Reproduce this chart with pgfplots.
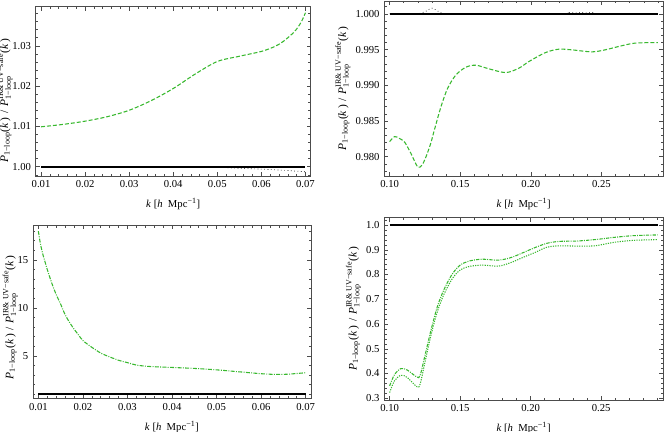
\documentclass[border=0pt]{standalone}
\usepackage{fontspec}
\setmainfont{Liberation Serif}
\usepackage{amsmath}
\usepackage{pgfplots}
\pgfplotsset{compat=1.18}
\definecolor{mgreen}{rgb}{0.22,0.72,0.18}
\definecolor{frame}{gray}{0.3}
\newcommand{\ylab}{\textit{P}$_{\text{1−loop}}$(\textit{k}\,)\,\,/\,\,\textit{P}$_{\text{1−loop}}^{\text{IR\& UV−safe}}$(\textit{k}\,)}
\pgfplotsset{
  mstyle/.style={
    scale only axis, anchor=south west,
    axis line style={frame, line width=0.5pt},
    every tick/.style={frame, line width=0.4pt},
    major tick length=3pt, minor tick length=1.7pt,
    tick align=inside,
    scaled ticks=false,
    tick label style={font=\fontsize{8}{9}\selectfont},
    xlabel style={font=\fontsize{8}{9}\selectfont, yshift=-1pt},
    ylabel style={font=\fontsize{8.6}{9}\selectfont, yshift=-3pt},
    /pgf/number format/assume math mode=true,
    xlabel={\textit{k} [\textit{h}\ \ Mpc\textsuperscript{−1}]},
    ylabel={\ylab},
  },
  greenline/.style={mgreen, line width=0.8pt, smooth},
  blackline/.style={black, line width=1.3pt},
}
\begin{document}
\begin{tikzpicture}
% Panel 1
\begin{axis}[mstyle, ylabel style={yshift=-4pt, xshift=-7pt}, at={(26.8pt,192pt)}, width=206.25pt, height=127pt,
  xmin=0.0088, xmax=0.0712, ymin=0.9977, ymax=1.0397,
  xtick={0.01,0.02,...,0.07},
  minor xtick={0.008,0.010,...,0.072},
  ytick={1.00,1.01,1.02,1.03},
  minor ytick={0.998,1.000,...,1.039},
  xticklabel style={/pgf/number format/.cd,fixed,fixed zerofill,precision=2},
  yticklabel style={/pgf/number format/.cd,fixed,fixed zerofill,precision=2}]
\addplot[black, line width=0.5pt, dotted, smooth] coordinates {
(0.010,1.0) (0.040,1.0) (0.046,1.0) (0.050,0.99985) (0.055,0.99962) (0.060,0.99940) (0.065,0.99912) (0.070,0.99875)};
\addplot[blackline] coordinates {(0.010,1.0) (0.070,1.0)};
\addplot[greenline, dash pattern=on 3pt off 1.5pt] coordinates {
(0.010,1.0099) (0.015,1.0105) (0.020,1.0113) (0.025,1.0124) (0.030,1.0140)
(0.035,1.0164) (0.040,1.0194) (0.045,1.0230) (0.050,1.0261) (0.055,1.0274)
(0.060,1.0286) (0.063,1.0298) (0.065,1.0311) (0.0675,1.0335) (0.069,1.0358) (0.070,1.0382)};
\end{axis}
% Panel 2
\begin{axis}[mstyle, at={(288.2pt,192pt)}, width=209.25pt, height=131.25pt,
  xmin=0.0962, xmax=0.2938, ymin=0.9773, ymax=1.0018,
  xtick={0.10,0.15,0.20,0.25},
  minor xtick={0.10,0.11,...,0.29},
  ytick={0.980,0.985,0.990,0.995,1.000},
  minor ytick={0.978,0.979,...,1.0015},
  xticklabel style={/pgf/number format/.cd,fixed,fixed zerofill,precision=2},
  yticklabel style={/pgf/number format/.cd,fixed,fixed zerofill,precision=3}]
\addplot[black, line width=0.5pt, dotted, smooth] coordinates {
(0.100,1.0) (0.118,1.0) (0.122,1.0001) (0.126,1.0004) (0.130,1.0008) (0.134,1.0004) (0.137,1.0001) (0.141,1.0)
(0.220,1.0) (0.226,1.0002) (0.236,1.0002) (0.244,1.0002) (0.250,1.0) (0.290,1.0)};
\addplot[blackline] coordinates {(0.10,1.0) (0.29,1.0)};
\addplot[greenline, dash pattern=on 3pt off 1.5pt] coordinates {
(0.100,0.98211) (0.1035,0.98282) (0.107,0.98255) (0.1106,0.98205) (0.115,0.98050)
(0.1199,0.97855) (0.123,0.97885) (0.1258,0.98001) (0.1290,0.98180) (0.1317,0.98375)
(0.1364,0.98702) (0.1411,0.98959) (0.1470,0.99146) (0.1540,0.99253) (0.1611,0.99281)
(0.1704,0.99230) (0.1822,0.99178) (0.1915,0.99239) (0.1986,0.99332) (0.2104,0.99458)
(0.2197,0.99505) (0.2291,0.99496) (0.2432,0.99468) (0.2526,0.99496) (0.2620,0.99542)
(0.2737,0.99590) (0.2900,0.99598)};
\end{axis}
% Panel 3
\begin{axis}[mstyle, ylabel style={yshift=-4pt, xshift=-4pt}, at={(24.75pt,25pt)}, width=208.5pt, height=130pt,
  xmin=0.0088, xmax=0.0712, ymin=0.55, ymax=18.6,
  xtick={0.01,0.02,...,0.07},
  minor xtick={0.008,0.010,...,0.072},
  ytick={5,10,15},
  minor ytick={1,2,...,18},
  xticklabel style={/pgf/number format/.cd,fixed,fixed zerofill,precision=2}]
\addplot[blackline] coordinates {(0.010,1.0) (0.070,1.0)};
\addplot[greenline, dash pattern=on 3pt off 1pt on 0.7pt off 1pt] coordinates {
(0.0100,18.0) (0.0105,16.6) (0.0110,15.6) (0.0115,14.8) (0.0120,14.0) (0.0130,12.6)
(0.0140,11.4) (0.0150,10.4) (0.0160,9.3) (0.0170,8.5) (0.0180,7.8) (0.0190,7.2)
(0.0200,6.6) (0.0220,5.9) (0.0240,5.3) (0.0260,4.9) (0.0280,4.55) (0.0300,4.3)
(0.0320,4.05) (0.0350,3.9) (0.0400,3.8) (0.0450,3.7) (0.0500,3.55) (0.0550,3.35)
(0.0600,3.15) (0.0630,3.08) (0.0660,3.1) (0.0700,3.25)};
\end{axis}
% Panel 4
\begin{axis}[mstyle, at={(288.2pt,24pt)}, width=209pt, height=136.7pt,
  xmin=0.0962, xmax=0.2938, ymin=0.293, ymax=1.0295,
  xtick={0.10,0.15,0.20,0.25},
  minor xtick={0.10,0.11,...,0.29},
  ytick={0.3,0.4,...,1.0},
  minor ytick={0.30,0.32,...,1.02},
  xticklabel style={/pgf/number format/.cd,fixed,fixed zerofill,precision=2},
  yticklabel style={/pgf/number format/.cd,fixed,fixed zerofill,precision=1}]
\addplot[blackline] coordinates {(0.10,1.0) (0.29,1.0)};
\addplot[greenline, dash pattern=on 2.5pt off 0.9pt on 0.7pt off 0.9pt] coordinates {
(0.1000,0.350) (0.1034,0.395) (0.1080,0.420) (0.1125,0.414) (0.1193,0.386) (0.1216,0.392)
(0.1250,0.471) (0.1295,0.579) (0.1340,0.673) (0.1386,0.740) (0.1443,0.801) (0.1500,0.838)
(0.1568,0.855) (0.1658,0.862) (0.1772,0.858) (0.1863,0.869) (0.1953,0.890) (0.2023,0.907)
(0.2114,0.926) (0.2204,0.934) (0.2318,0.935) (0.2454,0.941) (0.2590,0.950) (0.2726,0.957)
(0.2900,0.960)};
\addplot[greenline, dash pattern=on 0.9pt off 0.9pt] coordinates {
(0.1000,0.323) (0.1034,0.370) (0.1080,0.393) (0.1125,0.384) (0.1193,0.347) (0.1216,0.357)
(0.1250,0.444) (0.1295,0.559) (0.1340,0.653) (0.1386,0.721) (0.1443,0.782) (0.1500,0.818)
(0.1568,0.833) (0.1658,0.838) (0.1772,0.834) (0.1863,0.849) (0.1953,0.871) (0.2023,0.887)
(0.2114,0.910) (0.2204,0.916) (0.2318,0.915) (0.2454,0.916) (0.2590,0.930) (0.2726,0.938)
(0.2900,0.941)};
\end{axis}
\pgfresetboundingbox
\useasboundingbox (0,0) rectangle (498.75pt,324pt);
\end{tikzpicture}
\end{document}
